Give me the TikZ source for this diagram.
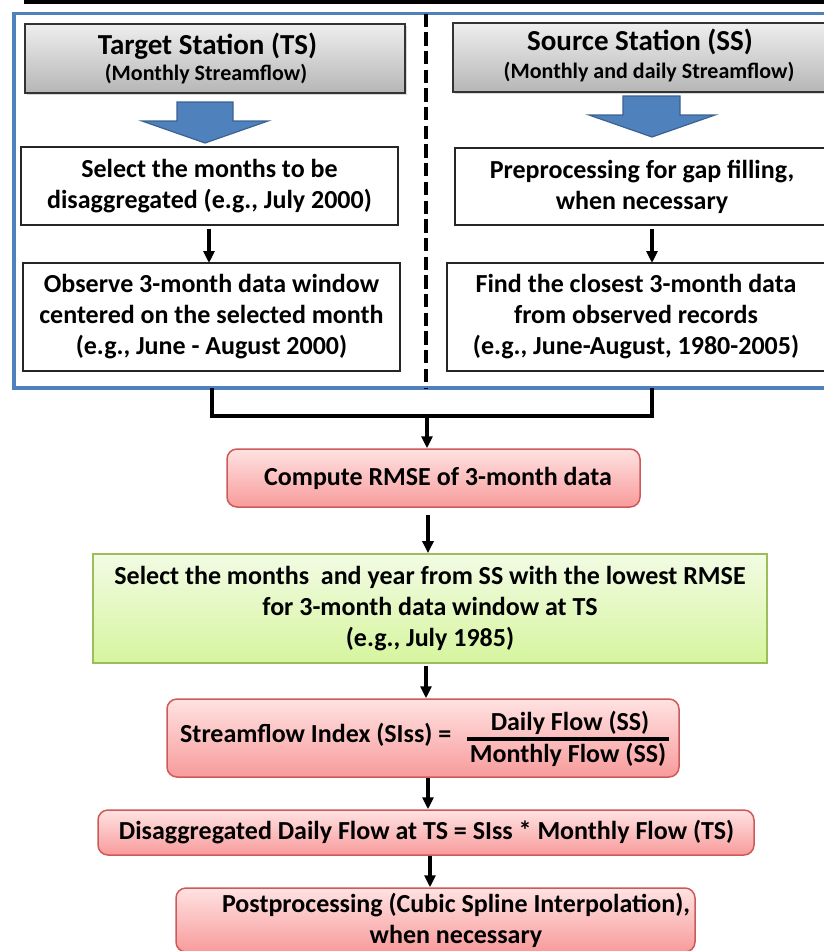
\documentclass[tikz,border=0pt]{standalone}
\usepackage{fontspec}
\setmainfont{Carlito}
\usetikzlibrary{shadows,arrows.meta}
\definecolor{frameblue}{RGB}{79,129,189}
\definecolor{arrowblue}{RGB}{79,129,189}
\definecolor{arrowedge}{RGB}{60,98,145}
\definecolor{pinktop}{RGB}{255,226,226}
\definecolor{pinkbot}{RGB}{248,155,155}
\definecolor{pinkedge}{RGB}{205,90,88}
\definecolor{greentop}{RGB}{242,251,228}
\definecolor{greenbot}{RGB}{214,245,158}
\definecolor{greenedge}{RGB}{155,190,90}
\definecolor{graytop}{RGB}{238,238,238}
\definecolor{graybot}{RGB}{182,182,182}
\newcommand\fbody{\fontsize{26}{31}\selectfont\bfseries}
\newcommand\ftitle{\fontsize{29}{34}\selectfont\bfseries}
\newcommand\fsubt{\fontsize{22}{26}\selectfont\bfseries}
\begin{document}
\begin{tikzpicture}[x=1pt,y=-1pt,
  txt/.style={font=\fbody, align=center, inner sep=0pt},
  whitebox/.style={draw=black!85, line width=1.5pt, fill=white, inner sep=0pt},
  headbox/.style={draw=black!80, line width=1.5pt, top color=graytop, bottom color=graybot, inner sep=0pt,
    drop shadow={shadow xshift=2pt,shadow yshift=-2pt,opacity=0.3}},
  pinkbox/.style={draw=pinkedge, line width=1.5pt, rounded corners=10pt, top color=pinktop, bottom color=pinkbot, inner sep=0pt},
  greenbox/.style={draw=greenedge, line width=1.8pt, top color=greentop, bottom color=greenbot, inner sep=0pt},
  flow/.style={line width=3.6pt, -{Triangle[length=12pt,width=11pt]}},
  joint/.style={line width=3.8pt},
  blockarrow/.style={fill=arrowblue, draw=arrowedge, line width=1.2pt, line join=miter}
]
\useasboundingbox (0,0) rectangle (823,951);

% top rule
\draw[line width=4pt] (24,2) -- (830,2);

% blue frame and dashed divider
\draw[frameblue, line width=3.2pt] (14,13.5) rectangle (860,388);
\draw[line width=4.3pt, dash pattern=on 13.3pt off 5.4pt] (425.7,13.5) -- (425.7,388);

% headers
\node[headbox, minimum width=380pt, minimum height=69pt] (tshead) at (215,58.5) {};
\node[font=\ftitle, anchor=base, inner sep=0pt] (tstitle) at (207.5,54) {Target Station (TS)};
\node[font=\fsubt, anchor=base, inner sep=0pt] (tssub) at (206,80) {(Monthly Streamflow)};

\node[headbox, minimum width=400pt, minimum height=69pt] (sshead) at (653,57.5) {};
\node[font=\ftitle, anchor=base, inner sep=0pt] (sstitle) at (640,50) {Source Station (SS)};
\node[font=\fsubt, anchor=base, inner sep=0pt] (sssub) at (649,78) {(Monthly and daily Streamflow)};

% block arrows
\draw[blockarrow] (177,102) -- (233,102) -- (233,121) -- (268,121) -- (205,143) -- (142,121) -- (177,121) -- cycle;
\draw[blockarrow] (623,96) -- (680,96) -- (680,115) -- (715,115) -- (652,137) -- (589,115) -- (623,115) -- cycle;

% TS column
\node[whitebox, minimum width=377pt, minimum height=78pt] (sel) at (209.5,186) {};
\node[txt] (selt) at (209.5,186) {Select the months to be\\disaggregated (e.g., July 2000)};
\node[whitebox, minimum width=377pt, minimum height=108pt] (obs) at (211.5,317) {};
\node[txt] (obst) at (211.5,317) {Observe 3-month data window\\centered on the selected month\\(e.g., June - August 2000)};

% SS column
\node[whitebox, minimum width=395pt, minimum height=77pt] (prep) at (652.5,186.5) {};
\node[txt] (prept) at (642,186.5) {Preprocessing for gap filling,\\when necessary};
\node[whitebox, minimum width=403pt, minimum height=108pt] (find) at (648.5,317) {};
\node[txt] (findt) at (636,317) {Find the closest 3-month data\\from observed records\\(e.g., June-August, 1980-2005)};

\draw[flow] (209,229) -- (209,263);
\draw[flow] (652,229) -- (652,263);

% lower flow
\node[pinkbox, minimum width=413pt, minimum height=58pt] (rmse) at (433.5,478) {};
\node[txt] (rmset) at (438,478) {Compute RMSE of 3-month data};

\node[greenbox, minimum width=674pt, minimum height=109pt] (sel2) at (430,608.5) {};
\node[txt] (sel2t) at (430,608.5) {Select the months~ and year from SS with the lowest RMSE\\for 3-month data window at TS\\(e.g., July 1985)};

\node[pinkbox, minimum width=512pt, minimum height=78pt] (si) at (423,738) {};
\node[txt, anchor=west] (silab) at (180,735) {Streamflow Index (SIss) =};
\node[txt] (sinum) at (570,723) {Daily Flow (SS)};
\node[txt] (siden) at (568,755) {Monthly Flow (SS)};
\draw[line width=3.8pt] (467,739) -- (669,739);

\node[pinkbox, minimum width=656pt, minimum height=45pt] (dis) at (426,832.5) {};
\node[txt] (dist) at (426.5,832.5) {Disaggregated Daily Flow at TS = SIss * Monthly Flow (TS)};

\node[pinkbox, minimum width=519pt, minimum height=64pt] (post) at (435.5,920) {};
\node[txt] (postt) at (456,920) {Postprocessing (Cubic Spline Interpolation),\\when necessary};

% connectors
\coordinate (tsout) at (212,388);
\coordinate (ssout) at (652,388);
\coordinate (jl) at (212,416);
\coordinate (jr) at (652,416);
\coordinate (jm) at (427,416);
\draw[joint] (tsout) -- (jl) -- (jr) -- (ssout);
\draw[flow] (jm) -- (427,0 |- rmse.north);
\draw[flow] (428,515) -- (428,0 |- sel2.north);
\draw[flow] (426,666) -- (426,0 |- si.north);
\draw[flow] (428,0 |- si.south) -- (428,0 |- dis.north);
\draw[flow] (430,0 |- dis.south) -- (430,0 |- post.north);
\end{tikzpicture}
\end{document}
